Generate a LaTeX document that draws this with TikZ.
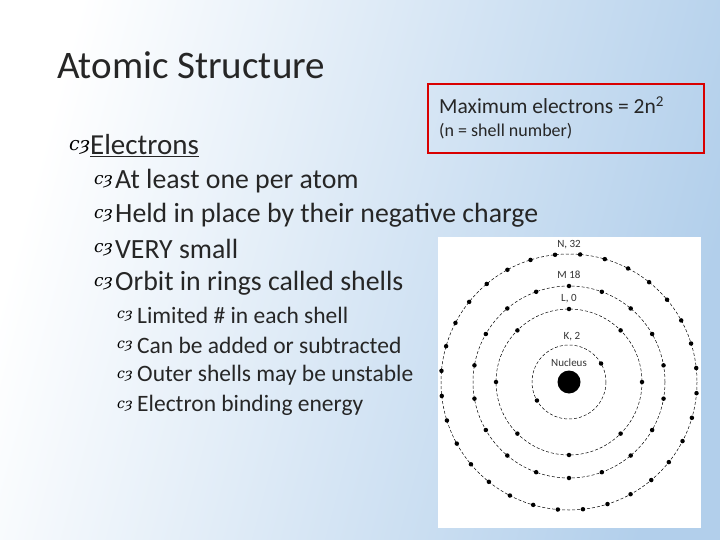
\documentclass[tikz,border=0pt]{standalone}
\usepackage{fontspec}
\setmainfont{Carlito}
\newfontfamily\djfont{DejaVu Serif}
\definecolor{bgb}{RGB}{178,207,235}
\begin{document}
\begin{tikzpicture}[x=1pt,y=-1pt,
  txt/.style={anchor=west,inner sep=0pt,text=black!85},
  shell/.style={draw=black,dash pattern=on 3pt off 2pt,line width=0.5pt},
  el/.style={circle,fill=black,inner sep=0pt,minimum size=4.5pt},
  lab/.style={font=\fontsize{11}{11}\selectfont,text=black!80,inner sep=1pt,fill=white}]
\shade[left color=white,right color=bgb,shading angle=75] (0,0) rectangle (720,540);
\useasboundingbox (0,0) rectangle (720,540);
\node[txt,font=\fontsize{39}{39}\selectfont] (title) at (57,65) {Atomic Structure};
\node[draw=red!85!black,line width=1.8pt,minimum width=276pt,minimum height=69pt,anchor=north west] (box) at (427,83) {};
\node[txt,font=\fontsize{21.5}{21.5}\selectfont] (max) at (439,105) {Maximum electrons = 2n\textsuperscript{2}};
\node[txt,font=\fontsize{18}{18}\selectfont] (sub) at (439,131) {(n = shell number)};
\newcommand\bul[3]{\node[txt,font=\djfont\itshape\fontsize{#3}{#3}\selectfont,text=black] at ({#1},{#2}) {cȝ};}
\bul{69}{147}{19}
\node[txt,font=\fontsize{29}{29}\selectfont] (e) at (90,146) {\underline{Electrons}};
\foreach \t [count=\i] in {At least one per atom,Held in place by their negative charge,VERY small,Orbit in rings called shells}{
  \bul{94}{182+34*(\i-1)}{17}
  \node[txt,font=\fontsize{27.8}{27.8}\selectfont] at ({115},{181+34*(\i-1)}) {\t};}
\foreach \t [count=\i] in {Limited \# in each shell,Can be added or subtracted,Outer shells may be unstable,Electron binding energy}{
  \bul{117}{316+30*(\i-1)}{14}
  \node[txt,font=\fontsize{23.5}{23.5}\selectfont] at ({137},{315+30*(\i-1)}) {\t};}
\fill[white] (438,237) rectangle (701,528);
\coordinate (c) at (569,382);
\foreach \r in {37,73,96,128} \draw[shell] (c) circle[radius=\r];
\node[circle,fill=black,minimum size=23pt,inner sep=0pt] (nuc) at (c) {};
\foreach \a in {150,-30} \node[el] at ([shift={(\a:37)}]c) {};
\foreach \k in {0,...,7} \node[el] at ([shift={(90+45*\k:73)}]c) {};
\foreach \k in {0,...,17} \node[el] at ([shift={(90+20*\k:96)}]c) {};
\foreach \k in {0,...,31} \node[el] at ([shift={(95+11.25*\k:128)}]c) {};
\node[lab] (nl) at (569,245) {N, 32};
\node[lab] (ml) at (569,275) {M 18};
\node[lab] (ll) at (569,299) {L, 0};
\node[lab] (kl) at (572,337) {K, 2};
\node[lab,fill=none] (nul) at (569,363) {Nucleus};
\end{tikzpicture}
\end{document}
